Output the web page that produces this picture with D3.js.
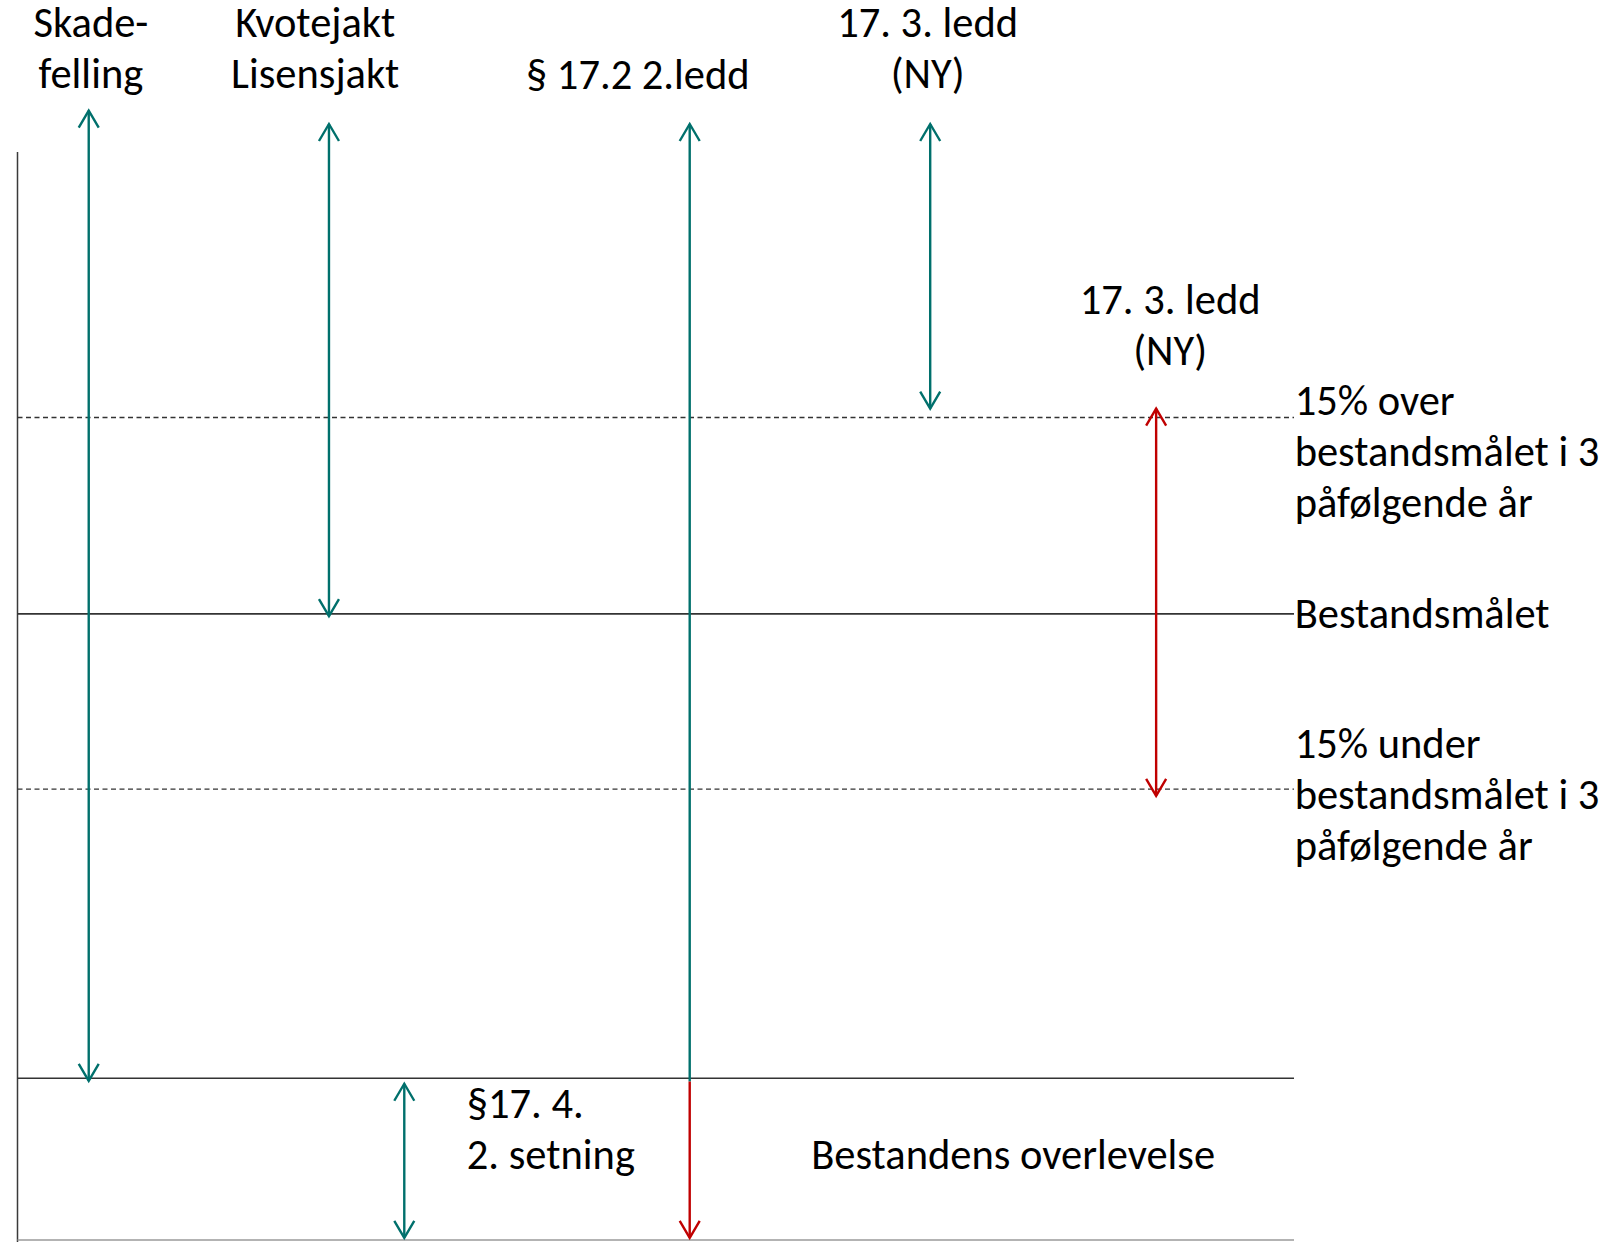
<!DOCTYPE html>
<html>
<head>
<meta charset="utf-8">
<script src="https://cdn.jsdelivr.net/npm/d3@7"></script>
<style>
  html, body { margin: 0; padding: 0; background: #fff; }
  svg { display: block; }
  text { font-family: Carlito, Lato, "Open Sans", sans-serif; fill: #000; }
</style>
</head>
<body>
<div id="chart"></div>
<script>
// diagram units: x 0..100 across the frame, y 0..100 from bottom line up to arrow tops
const levels = [
  { name: "over", value: 73.7, kind: "limit" },
  { name: "target", value: 56.1, kind: "target" },
  { name: "under", value: 40.4, kind: "limit" },
  { name: "survival", value: 14.5, kind: "target" },
  { name: "floor", value: 0, kind: "floor" }
];

const axisTop = 97.5;

const arrows = [
  { x: 5.58, from: 101.2, to: 14.25, color: "teal", heads: "both" },
  { x: 24.4, from: 100, to: 55.9, color: "teal", heads: "both" },
  { x: 30.3, from: 14.0, to: 0.2, color: "teal", heads: "both" },
  { x: 52.66, from: 100, to: 14.2, color: "teal", heads: "start" },
  { x: 52.66, from: 14.2, to: 0.2, color: "red", heads: "end" },
  { x: 71.5, from: 100, to: 74.5, color: "teal", heads: "both" },
  { x: 89.2, from: 74.5, to: 39.8, color: "red", heads: "both" }
];

const labels = [
  { lines: ["Skade-", "felling"], x: 5.75, y: 107.8, anchor: "middle" },
  { lines: ["Kvotejakt", "Lisensjakt"], x: 23.32, y: 107.8, anchor: "middle" },
  { lines: ["§ 17.2 2.ledd"], x: 48.6, y: 103.15, anchor: "middle" },
  { lines: ["17. 3. ledd", "(NY)"], x: 71.3, y: 107.8, anchor: "middle" },
  { lines: ["17. 3. ledd", "(NY)"], x: 90.3, y: 83.0, anchor: "middle" },
  { lines: ["15% over", "bestandsmålet i 3", "påfølgende år"], x: 100.05, y: 73.9, anchor: "start" },
  { lines: ["Bestandsmålet"], x: 100.05, y: 54.8, anchor: "start" },
  { lines: ["15% under", "bestandsmålet i 3", "påfølgende år"], x: 100.05, y: 43.2, anchor: "start" },
  { lines: ["§17. 4.", "2. setning"], x: 35.2, y: 10.95, anchor: "start" },
  { lines: ["Bestandens overlevelse"], x: 78.0, y: 6.35, anchor: "middle" }
];

const width = 1614;
const height = 1242;
const fontSize = 42.5;
const lineHeight = 51;

const colors = { teal: "#00706c", red: "#c00000" };

const svg = d3.select("#chart").append("svg")
  .attr("width", width)
  .attr("height", height);

const x = d3.scaleLinear().domain([0, 100]).range([17.5, 1294]);
const y = d3.scaleLinear().domain([0, 100]).range([1240, 124]);

// frame: left edge line
svg.append("line")
  .attr("x1", x(0)).attr("x2", x(0))
  .attr("y1", y(axisTop)).attr("y2", height)
  .attr("stroke", "#3a3a3a")
  .attr("stroke-width", 1.5);

// horizontal levels
svg.selectAll(".level")
  .data(levels)
  .enter()
  .append("line")
  .attr("class", "level")
  .attr("x1", x(0))
  .attr("x2", x(100))
  .attr("y1", d => y(d.value))
  .attr("y2", d => y(d.value))
  .attr("stroke", d => d.kind === "floor" ? "#9a9a9a" : "#333")
  .attr("stroke-width", d => d.kind === "limit" ? 1.3 : 1.6)
  .attr("stroke-dasharray", d => d.kind === "limit" ? "5,3.5" : null);

// arrows
const head = (px, py, dir) => {
  const w = 10, h = 17;
  return `M${px - w},${py + dir * h}L${px},${py}L${px + w},${py + dir * h}`;
};

const arrowG = svg.selectAll(".arrow")
  .data(arrows)
  .enter()
  .append("g")
  .attr("class", "arrow")
  .attr("stroke", d => colors[d.color])
  .attr("stroke-width", 2.4)
  .attr("fill", "none");

arrowG.append("line")
  .attr("x1", d => x(d.x)).attr("x2", d => x(d.x))
  .attr("y1", d => y(d.from)).attr("y2", d => y(d.to));

arrowG.filter(d => d.heads === "both" || d.heads === "start")
  .append("path")
  .attr("d", d => head(x(d.x), y(d.from), 1));

arrowG.filter(d => d.heads === "both" || d.heads === "end")
  .append("path")
  .attr("d", d => head(x(d.x), y(d.to), -1));

// labels
const label = svg.selectAll(".label")
  .data(labels)
  .enter()
  .append("text")
  .attr("class", "label")
  .attr("text-anchor", d => d.anchor)
  .style("font-size", fontSize + "px");

label.selectAll("tspan")
  .data(d => d.lines.map((t, i) => ({ t, i, d })))
  .enter()
  .append("tspan")
  .attr("x", l => x(l.d.x))
  .attr("y", l => y(l.d.y) + l.i * lineHeight)
  .text(l => l.t);
</script>
</body>
</html>
